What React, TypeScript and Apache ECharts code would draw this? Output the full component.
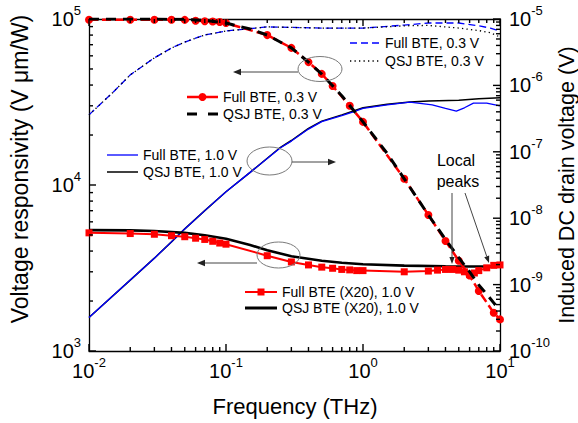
import React, { useEffect, useRef } from 'react';
import * as echarts from 'echarts';

const FONT = "'Liberation Sans', Arial, Helvetica, sans-serif";

// ---------- axes ----------
const X_MIN = 0.01;
const X_MAX = 10;
const YL_MIN = 1e3;
const YL_MAX = 1e5;
const YR_MIN = 1e-10;
const YR_MAX = 1e-5;

// ---------- left axis (voltage responsivity, V um/W) ----------
// Full BTE, 0.3 V (red dashed, circles)
const FREQ_FULL03_L = [0.01, 0.02, 0.03, 0.04, 0.05, 0.06, 0.07, 0.08, 0.09, 0.1, 0.2, 0.3, 0.4, 0.5, 0.6, 0.8, 1, 2, 3, 4, 5, 6, 7, 9, 10];
const RESP_FULL03 = [99000, 99000, 99000, 99000, 98800, 97500, 97000, 96500, 96000, 94500, 80000, 67000, 55000, 46700, 39500, 30000, 24000, 10900, 6600, 4600, 3500, 2850, 2300, 1700, 1550];

// QSJ BTE, 0.3 V (black dashed)
const FREQ_QSJ03_L = [0.01, 0.03, 0.05, 0.07, 0.1, 0.15, 0.2, 0.3, 0.4, 0.5, 0.7, 1, 1.5, 2, 3, 4, 5, 6, 7, 8, 9, 10];
const RESP_QSJ03 = [100000, 100000, 99500, 98000, 94500, 87000, 80000, 67000, 55000, 46500, 34500, 24000, 15500, 10900, 6600, 4700, 3650, 3000, 2500, 2200, 1950, 1750];

// Full BTE (X20), 1.0 V (red solid, squares)
const FREQ_FULL10_L = [0.01, 0.02, 0.03, 0.04, 0.05, 0.06, 0.07, 0.08, 0.09, 0.1, 0.2, 0.3, 0.4, 0.5, 0.6, 0.7, 0.8, 0.9, 1, 2, 3, 3.5, 4, 4.5, 5, 5.5, 6, 6.5, 7, 8, 9, 10];
const RESP_FULL10 = [5150, 5100, 5050, 4950, 4880, 4780, 4700, 4580, 4470, 4400, 3750, 3440, 3300, 3200, 3150, 3100, 3080, 3050, 3050, 3000, 3030, 3070, 3100, 3100, 3070, 3000, 2900, 2950, 3050, 3170, 3280, 3300];

// QSJ BTE (X20), 1.0 V (black thick)
const FREQ_QSJ10_L = [0.01, 0.02, 0.03, 0.05, 0.07, 0.1, 0.15, 0.2, 0.3, 0.5, 0.7, 1, 2, 4, 6, 10];
const RESP_QSJ10 = [5350, 5330, 5280, 5150, 4980, 4750, 4350, 4050, 3720, 3500, 3400, 3330, 3270, 3240, 3230, 3230];

// ---------- right axis (induced DC drain voltage, V) ----------
// Full BTE, 1.0 V (blue thin)
const FREQ_FULL10_R = [0.01, 0.02, 0.03, 0.04, 0.05, 0.07, 0.1, 0.15, 0.2, 0.25, 0.3, 0.4, 0.5, 0.7, 0.85, 1, 1.5, 2.2, 3.2, 4, 4.8, 5.5, 6.4, 8, 10];
const DRAIN_FULL10 = [3.2e-10, 1.17e-9, 2.5e-9, 4.4e-9, 6.9e-9, 1.3e-8, 2.5e-8, 4.9e-8, 7.9e-8, 1.15e-7, 1.45e-7, 2.2e-7, 2.85e-7, 3.5e-7, 4.0e-7, 4.5e-7, 5.1e-7, 5.6e-7, 5.1e-7, 4.5e-7, 4.1e-7, 4.6e-7, 5.4e-7, 5.4e-7, 4.9e-7];

// QSJ BTE, 1.0 V (black thin)
const FREQ_QSJ10_R = [0.01, 0.02, 0.03, 0.04, 0.05, 0.07, 0.1, 0.15, 0.2, 0.25, 0.3, 0.4, 0.5, 0.7, 1, 1.5, 2.2, 3, 5, 7, 10];
const DRAIN_QSJ10 = [3.2e-10, 1.17e-9, 2.5e-9, 4.4e-9, 6.9e-9, 1.3e-8, 2.5e-8, 4.9e-8, 8.0e-8, 1.17e-7, 1.48e-7, 2.25e-7, 2.9e-7, 3.6e-7, 4.6e-7, 5.2e-7, 5.6e-7, 5.8e-7, 6.0e-7, 6.3e-7, 6.5e-7];

// Full BTE, 0.3 V (blue dashed)
const FREQ_FULL03_R = [0.01, 0.015, 0.02, 0.03, 0.04, 0.05, 0.07, 0.1, 0.2, 0.5, 1, 2, 3, 5, 7, 8.5, 10];
const DRAIN_FULL03 = [3.6e-7, 7.9e-7, 1.44e-6, 2.6e-6, 3.65e-6, 4.5e-6, 5.75e-6, 6.6e-6, 7.6e-6, 7.3e-6, 7.3e-6, 8.1e-6, 8.7e-6, 8.7e-6, 7.9e-6, 7.3e-6, 6.6e-6];

// QSJ BTE, 0.3 V (black dotted)
const FREQ_QSJ03_R = [0.01, 0.015, 0.02, 0.03, 0.04, 0.05, 0.07, 0.1, 0.2, 0.5, 1, 2, 3, 5, 7, 8.5, 10];
const DRAIN_QSJ03 = [3.6e-7, 7.9e-7, 1.44e-6, 2.6e-6, 3.65e-6, 4.5e-6, 5.75e-6, 6.6e-6, 7.6e-6, 7.3e-6, 7.3e-6, 7.9e-6, 8.0e-6, 7.3e-6, 6.7e-6, 6.2e-6, 5.35e-6];

// ---------- ticks ----------
const MINOR_STEPS = [2, 3, 4, 5, 6, 7, 8, 9];
const X_DECADES = [0.01, 0.1, 1, 10];
const YL_DECADES = [1e3, 1e4, 1e5];
const YR_DECADES = [1e-10, 1e-9, 1e-8, 1e-7, 1e-6, 1e-5];

// ---------- texts ----------
const X_TITLE = 'Frequency (THz)';
const YL_TITLE = 'Voltage responsivity (V \u03bcm/W)';
const YR_TITLE = 'Induced DC drain voltage (V)';
const PEAK_TEXT = ['Local', 'peaks'];

const LEGEND_ITEMS = [
  { text: 'Full BTE, 0.3 V', x: 350, y: 43, len: 30, color: '#0000ff', width: 1.3, dash: [7, 4] as number[] | null, marker: '' },
  { text: 'QSJ BTE, 0.3 V', x: 350, y: 61, len: 30, color: '#000000', width: 1.3, dash: [1.3, 3.2] as number[] | null, marker: '' },
  { text: 'Full BTE, 0.3 V', x: 187, y: 97, len: 31, color: '#ff0000', width: 2.5, dash: [12, 7] as number[] | null, marker: 'circle' },
  { text: 'QSJ BTE, 0.3 V', x: 187, y: 114, len: 31, color: '#000000', width: 3, dash: [10, 11] as number[] | null, marker: '' },
  { text: 'Full BTE, 1.0 V', x: 107, y: 155, len: 31, color: '#0000ff', width: 1.3, dash: null, marker: '' },
  { text: 'QSJ BTE, 1.0 V', x: 107, y: 172, len: 31, color: '#000000', width: 1.5, dash: null, marker: '' },
  { text: 'Full BTE (X20), 1.0 V', x: 245, y: 292, len: 32, color: '#ff0000', width: 2, dash: null, marker: 'square' },
  { text: 'QSJ BTE (X20), 1.0 V', x: 245, y: 308, len: 32, color: '#000000', width: 3, dash: null, marker: '' },
];

const zip = (xs: number[], ys: number[]) => xs.map((x, i) => [x, ys[i]]);
const minorOf = (ds: number[]) => ds.slice(0, -1).flatMap((d) => MINOR_STEPS.map((k) => k * d));

const supLabel = (v: number) => {
  const e = Math.round(Math.log10(v));
  return `{b|10}{s|${e}}`;
};
const RICH = {
  b: { fontSize: 20, lineHeight: 30, fontFamily: FONT, color: '#000' },
  s: { fontSize: 13, lineHeight: 13, fontFamily: FONT, color: '#000', verticalAlign: 'top' },
};

const AXIS_LINE = { color: '#000', width: 1.3 };
const MAJOR_LEN = 7;
const MINOR_LEN = 4;

function arrow(x1: number, y1: number, x2: number, y2: number, head = 8, half = 3.2): any[] {
  const dx = x2 - x1;
  const dy = y2 - y1;
  const L = Math.hypot(dx, dy);
  const ux = dx / L;
  const uy = dy / L;
  const bx = x2 - ux * head;
  const by = y2 - uy * head;
  return [
    { type: 'line', shape: { x1, y1, x2: bx, y2: by }, style: { stroke: '#444', lineWidth: 1 }, z: 50 },
    {
      type: 'polygon',
      shape: { points: [[x2, y2], [bx - uy * half, by + ux * half], [bx + uy * half, by - ux * half]] },
      style: { fill: '#222' },
      z: 50,
    },
  ];
}

function ellipse(cx: number, cy: number, rx: number, ry: number) {
  return { type: 'ellipse', shape: { cx, cy, rx, ry }, style: { fill: 'none', stroke: '#7a7a7a', lineWidth: 1 }, z: 50 };
}

function text(t: string, x: number, y: number, size: number, align = 'left', rotation = 0) {
  return {
    type: 'text',
    x,
    y,
    rotation,
    z: 60,
    style: {
      text: t,
      font: `${size}px ${FONT}`,
      fill: '#000',
      align,
      verticalAlign: 'middle',
      textAlign: align,
      textVerticalAlign: 'middle',
    },
  };
}

function legendGraphics() {
  const out: any[] = [];
  LEGEND_ITEMS.forEach((it) => {
    out.push({
      type: 'line',
      shape: { x1: it.x, y1: it.y, x2: it.x + it.len, y2: it.y },
      style: { stroke: it.color, lineWidth: it.width, lineDash: it.dash || undefined },
      z: 60,
    });
    const cx = it.x + it.len / 2;
    if (it.marker === 'circle') {
      out.push({ type: 'circle', shape: { cx, cy: it.y, r: 4 }, style: { fill: it.color }, z: 61 });
    } else if (it.marker === 'square') {
      out.push({ type: 'rect', shape: { x: cx - 3.5, y: it.y - 3.5, width: 7, height: 7 }, style: { fill: it.color }, z: 61 });
    }
    out.push(text(it.text, it.x + it.len + 5, it.y, 14));
  });
  return out;
}

function lineSeries(
  name: string,
  data: number[][],
  yAxisIndex: number,
  color: string,
  width: number,
  type: any,
  z: number,
  symbol = 'none',
  symbolSize = 0
) {
  return {
    type: 'line',
    name,
    data,
    xAxisIndex: 0,
    yAxisIndex,
    z,
    symbol,
    symbolSize,
    showSymbol: symbol !== 'none',
    lineStyle: { color, width, type },
    itemStyle: { color },
    emphasis: { disabled: true },
    silent: true,
  };
}

export default function App() {
  const ref = useRef<HTMLDivElement>(null);
  useEffect(() => {
    if (!ref.current) return;
    const chart = echarts.init(ref.current, null, { renderer: 'svg' });
    const xBase = {
      type: 'log',
      logBase: 10,
      min: X_MIN,
      max: X_MAX,
      splitLine: { show: false },
      axisLine: { show: true, lineStyle: AXIS_LINE },
      axisTick: { show: false },
    };
    const yBase = {
      type: 'log',
      logBase: 10,
      splitLine: { show: false },
      axisLine: { show: true, lineStyle: AXIS_LINE },
      axisTick: { show: false },
    };
    chart.setOption({
      animation: false,
      backgroundColor: '#fff',
      grid: { left: 89, right: 78, top: 19, bottom: 72, containLabel: false },
      xAxis: [
        {
          ...xBase,
          position: 'bottom',
          axisLabel: { formatter: supLabel, rich: RICH, margin: 5, showMinLabel: true, showMaxLabel: true },
        },
        { ...xBase, position: 'top', axisLabel: { show: false } },
      ],
      yAxis: [
        {
          ...yBase,
          min: YL_MIN,
          max: YL_MAX,
          position: 'left',
          axisLabel: { formatter: supLabel, rich: RICH, margin: 8, showMinLabel: true, showMaxLabel: true },
        },
        {
          ...yBase,
          min: YR_MIN,
          max: YR_MAX,
          position: 'right',
          axisLabel: { formatter: supLabel, rich: RICH, margin: 9, showMinLabel: true, showMaxLabel: true },
        },
      ],
      series: [
        lineSeries('Full BTE, 0.3 V (drain)', zip(FREQ_FULL03_R, DRAIN_FULL03), 1, '#0000ff', 1.3, [7, 4], 2),
        lineSeries('QSJ BTE, 0.3 V (drain)', zip(FREQ_QSJ03_R, DRAIN_QSJ03), 1, '#000000', 1.3, [1.3, 3.2], 3),
        lineSeries('QSJ BTE, 1.0 V (drain)', zip(FREQ_QSJ10_R, DRAIN_QSJ10), 1, '#000000', 1.5, 'solid', 4),
        lineSeries('Full BTE, 1.0 V (drain)', zip(FREQ_FULL10_R, DRAIN_FULL10), 1, '#0000ff', 1.3, 'solid', 5),
        lineSeries('QSJ BTE (X20), 1.0 V', zip(FREQ_QSJ10_L, RESP_QSJ10), 0, '#000000', 2.6, 'solid', 6),
        lineSeries('Full BTE (X20), 1.0 V', zip(FREQ_FULL10_L, RESP_FULL10), 0, '#ff0000', 2, 'solid', 7, 'rect', 7),
        lineSeries('Full BTE, 0.3 V', zip(FREQ_FULL03_L, RESP_FULL03), 0, '#ff0000', 2.5, [9, 4], 8, 'circle', 8),
        lineSeries('QSJ BTE, 0.3 V', zip(FREQ_QSJ03_L, RESP_QSJ03), 0, '#000000', 3, [10, 7], 9),
      ],
    });

    // ticks (major + minor, inward), positioned through the axes' own scales
    const toPx = (yi: number, pt: number[]) =>
      chart.convertToPixel({ xAxisIndex: 0, yAxisIndex: yi } as any, pt) as unknown as number[];
    const ok = (p: any) => Array.isArray(p) && isFinite(p[0]) && isFinite(p[1]);
    const ticks: any[] = [];
    const addTick = (x1: number, y1: number, x2: number, y2: number) =>
      ticks.push({ type: 'line', shape: { x1, y1, x2, y2 }, style: { stroke: '#000', lineWidth: 1.4 }, z: 70 });
    const xTicks = [...X_DECADES.map((v) => [v, MAJOR_LEN]), ...minorOf(X_DECADES).map((v) => [v, MINOR_LEN])];
    xTicks.forEach(([v, len]) => {
      const b = toPx(0, [v, YL_MIN]);
      const t = toPx(0, [v, YL_MAX]);
      if (!ok(b) || !ok(t)) return;
      addTick(b[0], b[1], b[0], b[1] - len);
      addTick(t[0], t[1], t[0], t[1] + len);
    });
    const ylTicks = [...YL_DECADES.map((v) => [v, MAJOR_LEN]), ...minorOf(YL_DECADES).map((v) => [v, MINOR_LEN])];
    ylTicks.forEach(([v, len]) => {
      const p = toPx(0, [X_MIN, v]);
      if (!ok(p)) return;
      addTick(p[0], p[1], p[0] + len, p[1]);
    });
    const yrTicks = [...YR_DECADES.map((v) => [v, MAJOR_LEN]), ...minorOf(YR_DECADES).map((v) => [v, MINOR_LEN])];
    yrTicks.forEach(([v, len]) => {
      const p = toPx(1, [X_MAX, v]);
      if (!ok(p)) return;
      addTick(p[0], p[1], p[0] - len, p[1]);
    });

    chart.setOption({
      graphic: [
        ...ticks,
        ellipse(320, 69, 22, 12.5),
        ...arrow(298, 72, 233, 72),
        ellipse(269.5, 161, 22.5, 14),
        ...arrow(292, 162, 336, 162),
        ellipse(278.5, 255, 21.5, 13),
        ...arrow(257, 263, 197, 263),
        ...arrow(452, 193, 452, 264, 7, 2.6),
        ...arrow(465, 193, 489, 263, 7, 2.6),
        text(PEAK_TEXT[0], 456, 160, 16, 'center'),
        text(PEAK_TEXT[1], 458, 181, 16, 'center'),
        ...legendGraphics(),
        text(X_TITLE, 295, 406, 22, 'center'),
        text(YL_TITLE, 20, 169, 23, 'center', Math.PI / 2),
        text(YR_TITLE, 567, 185, 21.5, 'center', Math.PI / 2),
      ],
    });
    return () => chart.dispose();
  }, []);
  return <div ref={ref} style={{ position: 'fixed', left: 0, top: 0, width: 578, height: 423, background: '#fff' }} />;
}
